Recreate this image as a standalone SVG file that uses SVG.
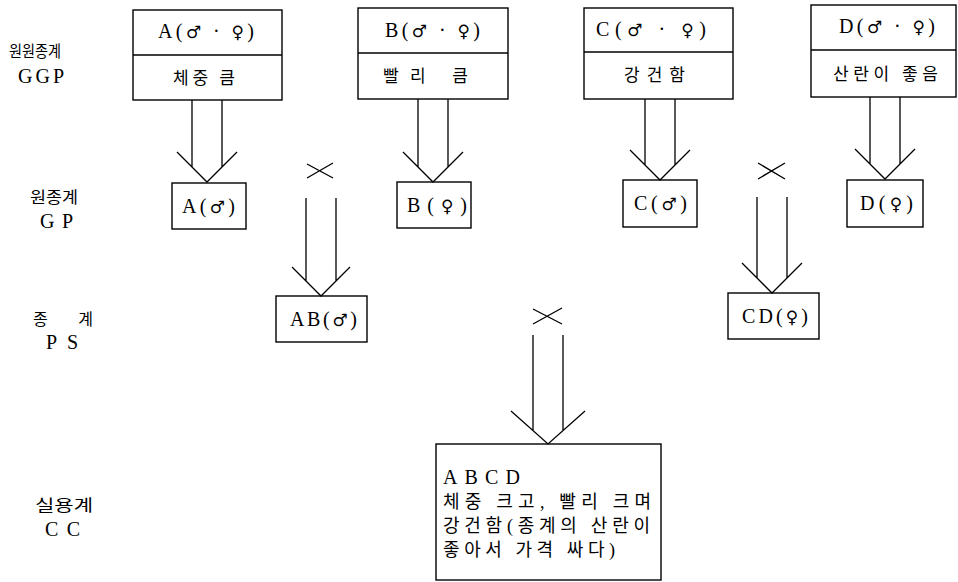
<svg xmlns="http://www.w3.org/2000/svg" width="958" height="582" viewBox="0 0 958 582">
<style>
  .bx { fill: #fff; stroke: #000; stroke-width: 1.4; }
  .dv { stroke: #000; stroke-width: 1.4; }
  .cn { fill: none; stroke: #000; stroke-width: 1.3; }
  .lat { font-family: "Liberation Serif", "DejaVu Serif", serif; font-size: 20px; fill: #000; }
  .sym { font-family: "DejaVu Sans", sans-serif; font-size: 17px; }
  .ko { font-family: "Noto Sans CJK KR", "Noto Sans", sans-serif; font-size: 17px; fill: #000; }
  .kol { font-family: "Noto Sans CJK KR", "Noto Sans", sans-serif; font-size: 16px; fill: #000; }
  .kob { font-family: "Liberation Serif", "Noto Sans CJK KR", serif; font-size: 18px; fill: #000; }
</style>
<rect width="958" height="582" fill="#fff"/>

<g id="labels">
  <text class="kol" x="9" y="57" textLength="52" lengthAdjust="spacingAndGlyphs">원원종계</text>
  <text class="lat" x="18" y="83" textLength="46">GGP</text>
  <text class="kol" x="30" y="203" textLength="48" lengthAdjust="spacingAndGlyphs">원종계</text>
  <text class="lat" x="40" y="228" textLength="33">GP</text>
  <text class="kol" x="33" y="325" textLength="60">종 계</text>
  <text class="lat" x="46" y="349" textLength="32">PS</text>
  <text class="kol" x="35" y="511" textLength="58" lengthAdjust="spacingAndGlyphs">실용계</text>
  <text class="lat" x="45" y="536" textLength="35">CC</text>
</g>

<g id="node-A">
  <rect class="bx" x="133" y="10" width="149" height="90"/>
  <line class="dv" x1="133" y1="55" x2="282" y2="55"/>
  <text class="lat" x="158" y="38" textLength="96">A(<tspan class="sym">♂</tspan> · <tspan class="sym">♀</tspan>)</text>
  <text class="ko" x="173" y="84" textLength="62">체중 큼</text>
</g>
<g id="node-B">
  <rect class="bx" x="358" y="8" width="150" height="91"/>
  <line class="dv" x1="358" y1="53" x2="508" y2="53"/>
  <text class="lat" x="385" y="37" textLength="95">B(<tspan class="sym">♂</tspan> · <tspan class="sym">♀</tspan>)</text>
  <text class="ko" x="383" y="82" textLength="85">빨리 큼</text>
</g>
<g id="node-C">
  <rect class="bx" x="584" y="8" width="149" height="91"/>
  <line class="dv" x1="584" y1="52" x2="733" y2="52"/>
  <text class="lat" x="596" y="36" textLength="110">C(<tspan class="sym">♂</tspan> · <tspan class="sym">♀</tspan>)</text>
  <text class="ko" x="624" y="81" textLength="61">강건함</text>
</g>
<g id="node-D">
  <rect class="bx" x="811" y="5" width="145" height="92"/>
  <line class="dv" x1="811" y1="50" x2="956" y2="50"/>
  <text class="lat" x="839" y="33" textLength="96">D(<tspan class="sym">♂</tspan> · <tspan class="sym">♀</tspan>)</text>
  <text class="ko" x="833" y="80" textLength="105">산란이 좋음</text>
</g>

<g id="node-A-male">
  <rect class="bx" x="172" y="183" width="74" height="46"/>
  <text class="lat" x="182" y="213" textLength="53">A(<tspan class="sym">♂</tspan>)</text>
</g>
<g id="node-B-female">
  <rect class="bx" x="397" y="182" width="74" height="46"/>
  <text class="lat" x="407" y="212" textLength="60">B(<tspan class="sym">♀</tspan>)</text>
</g>
<g id="node-C-male">
  <rect class="bx" x="623" y="180" width="74" height="47"/>
  <text class="lat" x="634" y="210" textLength="53">C(<tspan class="sym">♂</tspan>)</text>
</g>
<g id="node-D-female">
  <rect class="bx" x="847" y="180" width="76" height="47"/>
  <text class="lat" x="860" y="210" textLength="53">D(<tspan class="sym">♀</tspan>)</text>
</g>
<g id="node-AB-male">
  <rect class="bx" x="276" y="296" width="91" height="46"/>
  <text class="lat" x="290" y="326" textLength="67">AB(<tspan class="sym">♂</tspan>)</text>
</g>
<g id="node-CD-female">
  <rect class="bx" x="728" y="293" width="91" height="46"/>
  <text class="lat" x="742" y="323" textLength="66">CD(<tspan class="sym">♀</tspan>)</text>
</g>
<g id="node-ABCD">
  <rect class="bx" x="436" y="444" width="225" height="136"/>
  <text class="lat" x="443" y="484" textLength="77">ABCD</text>
  <text class="kob" x="443" y="508" textLength="208">체중 크고, 빨리 크며</text>
  <text class="kob" x="443" y="532" textLength="207">강건함(종계의 산란이</text>
  <text class="kob" x="443" y="556" textLength="172">좋아서 가격 싸다)</text>
</g>

<g id="connectors">
  <path class="cn" d="M192 100 V167 M222 100 V167 M177 152 L207 182 L237 152"/>
  <path class="cn" d="M418 99 V167 M448 99 V167 M403 152 L433 182 L463 152"/>
  <path class="cn" d="M645 99 V165 M675 99 V165 M630 150 L660 180 L690 150"/>
  <path class="cn" d="M870 97 V164 M900 97 V164 M855 149 L885 179 L915 149"/>
  <path class="cn" d="M307 164 L333 178 M307 178 L333 163"/>
  <path class="cn" d="M306 198 V281 M336 198 V281 M292 267 L321 296 L350 267"/>
  <path class="cn" d="M758 163 L785 179 M758 179 L785 163"/>
  <path class="cn" d="M757 197 V278 M787 197 V278 M742 263 L772 293 L802 263"/>
  <path class="cn" d="M533 309 L562 324 M533 324 L562 308"/>
  <path class="cn" d="M533 335 V430 M563 335 V430 M511 411 L548 444 L585 411"/>
</g>
</svg>
